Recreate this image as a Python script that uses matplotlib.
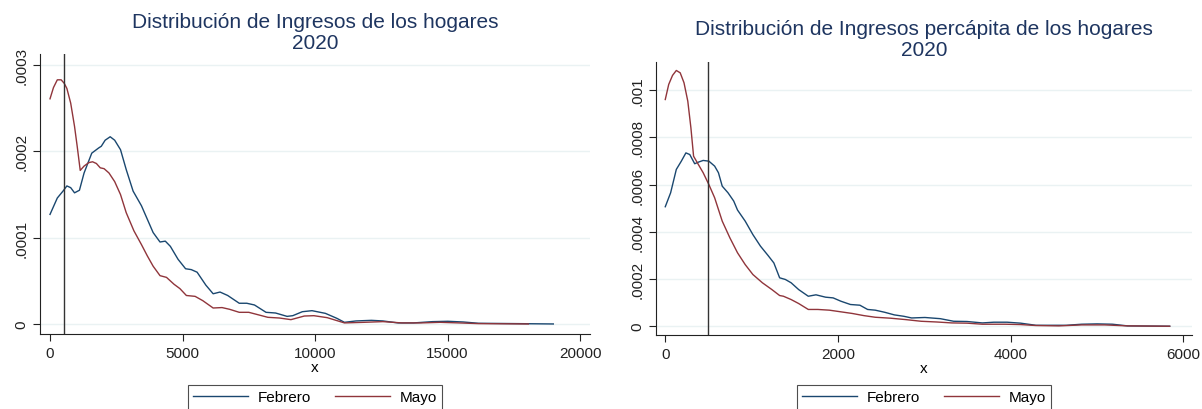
import numpy as np
import matplotlib.pyplot as plt
from matplotlib.ticker import FuncFormatter

plt.rcParams['font.family'] = ['Liberation Sans', 'DejaVu Sans']

# Ingresos de los hogares (densidad, en 1e-4)
x_hog_feb = [0, 275, 490, 636, 780, 925, 1110, 1285, 1575, 1835, 1935, 2080, 2270, 2440,
             2660, 2875, 3135, 3450, 3890, 4150, 4350, 4540, 4830, 5115, 5330, 5550, 5880,
             6155, 6415, 6705, 7140, 7425, 7715, 8150, 8510, 8945, 9160, 9520, 9885, 10390,
             10825, 11110, 11545, 12125, 12560, 13135, 13715, 14435, 15010, 15590, 16170,
             17615, 18990]
y_hog_feb = [1.27, 1.46, 1.54, 1.60, 1.58, 1.52, 1.55, 1.75, 1.98, 2.04, 2.06, 2.13, 2.17, 2.13,
             2.02, 1.79, 1.54, 1.37, 1.06, 0.95, 0.96, 0.90, 0.75, 0.64, 0.63, 0.60, 0.45,
             0.35, 0.37, 0.33, 0.24, 0.24, 0.22, 0.135, 0.127, 0.088, 0.096, 0.142, 0.154, 0.123,
             0.065, 0.019, 0.035, 0.042, 0.035, 0.012, 0.012, 0.027, 0.031, 0.023, 0.008,
             0.004, 0.0]
x_hog_may = [0, 130, 275, 420, 535, 636, 780, 925, 1025, 1140, 1285, 1460, 1605, 1750, 1895,
             2040, 2225, 2440, 2660, 2875, 3165, 3450, 3670, 3890, 4150, 4395, 4680, 4900,
             5145, 5475, 5765, 6155, 6490, 6775, 7140, 7500, 7935, 8220, 8655, 9090, 9595,
             9955, 10460, 11110, 11835, 12560, 13280, 14000, 14720, 15445, 16170, 18050]
y_hog_may = [2.61, 2.74, 2.83, 2.83, 2.79, 2.73, 2.56, 2.29, 2.06, 1.78, 1.83, 1.87, 1.88, 1.86,
             1.81, 1.80, 1.75, 1.65, 1.50, 1.29, 1.08, 0.92, 0.79, 0.67, 0.56, 0.54, 0.46, 0.41,
             0.33, 0.32, 0.27, 0.185, 0.19, 0.17, 0.135, 0.135, 0.10, 0.077, 0.069, 0.05, 0.092,
             0.096, 0.073, 0.012, 0.019, 0.027, 0.012, 0.012, 0.019, 0.012, 0.004, 0.0]

# Ingresos percapita (densidad, en 1e-4)
x_pc_feb = [0, 62, 128, 186, 239, 284, 341, 385, 439, 505, 572, 616, 660, 727, 793, 837, 926,
            1015, 1103, 1192, 1258, 1325, 1391, 1458, 1546, 1657, 1746, 1857, 1945, 2034, 2145,
            2255, 2344, 2433, 2543, 2654, 2765, 2854, 3009, 3186, 3341, 3496, 3673, 3806, 3961,
            4116, 4294, 4471, 4648, 4825, 5003, 5180, 5357, 5844]
y_pc_feb = [5.06, 5.65, 6.64, 6.99, 7.34, 7.27, 6.88, 6.95, 7.02, 6.99, 6.78, 6.50, 5.93, 5.65,
            5.30, 4.92, 4.45, 3.88, 3.39, 2.99, 2.68, 2.05, 1.98, 1.84, 1.55, 1.27, 1.33, 1.23,
            1.20, 1.06, 0.92, 0.89, 0.71, 0.68, 0.59, 0.48, 0.42, 0.35, 0.37, 0.32, 0.21, 0.20,
            0.14, 0.17, 0.17, 0.13, 0.04, 0.04, 0.04, 0.085, 0.099, 0.085, 0.014, 0.0]
x_pc_may = [0, 40, 84, 128, 173, 217, 261, 297, 328, 372, 439, 505, 572, 660, 749, 837, 926,
            1015, 1125, 1236, 1325, 1369, 1458, 1546, 1657, 1768, 1901, 2034, 2167, 2300, 2433,
            2610, 2787, 2964, 3142, 3319, 3496, 3673, 3939, 4116, 4294, 4560, 4825, 5091, 5357,
            5844]
y_pc_may = [9.60, 10.24, 10.62, 10.83, 10.73, 10.31, 9.53, 8.40, 7.20, 6.92, 6.50, 6.00, 5.44,
            4.45, 3.74, 3.11, 2.61, 2.19, 1.84, 1.55, 1.30, 1.27, 1.13, 0.96, 0.71, 0.71, 0.68,
            0.61, 0.54, 0.45, 0.38, 0.34, 0.28, 0.21, 0.18, 0.14, 0.13, 0.085, 0.085, 0.07,
            0.03, 0.014, 0.056, 0.056, 0.014, 0.0]

linea_hog = 520
linea_pc = 500

navy = '#1a476f'
maroon = '#90353b'
grid_col = '#eaf2f3'
title_col = '#1e3560'


def fmt_stata(v, pos):
    if abs(v) < 1e-12:
        return '0'
    s = ('%.4f' % v).rstrip('0')
    return s[1:] if s.startswith('0') else s


fig = plt.figure(figsize=(12.02, 4.10), dpi=100)
ax1 = fig.add_axes([0.0333, 0.183, 0.4576, 0.683])
ax2 = fig.add_axes([0.546, 0.180, 0.4455, 0.667])

paneles = [
    (ax1, x_hog_feb, y_hog_feb, x_hog_may, y_hog_may, linea_hog,
     'Distribución de Ingresos de los hogares\n2020',
     [0, 5000, 10000, 15000, 20000], [0, 0.0001, 0.0002, 0.0003],
     (-377, 20377), (-0.0000116, 0.000313), 4),
    (ax2, x_pc_feb, y_pc_feb, x_pc_may, y_pc_may, linea_pc,
     'Distribución de Ingresos percápita de los hogares\n2020',
     [0, 2000, 4000, 6000], [0, 0.0002, 0.0004, 0.0006, 0.0008, 0.001],
     (-104, 6100), (-0.000038, 0.00112), 5),
]

for ax, xf, yf, xm, ym, linea, titulo, xt, yt, xl, yl, tpad in paneles:
    ax.plot(xf, np.array(yf) * 1e-4, color=navy, lw=1.0, label='Febrero')
    ax.plot(xm, np.array(ym) * 1e-4, color=maroon, lw=1.0, label='Mayo')
    ax.axvline(linea, color='#333333', lw=1.0)
    ax.set_xlim(*xl)
    ax.set_ylim(*yl)
    ax.set_xticks(xt)
    ax.set_yticks(yt)
    ax.yaxis.set_major_formatter(FuncFormatter(fmt_stata))
    ax.grid(axis='y', color=grid_col, lw=1.0)
    ax.set_axisbelow(True)
    for s in ['top', 'right']:
        ax.spines[s].set_visible(False)
    for s in ['left', 'bottom']:
        ax.spines[s].set_color('#222222')
        ax.spines[s].set_linewidth(0.8)
    ax.tick_params(direction='out', length=5, width=0.8, labelsize=11, colors='#222222')
    plt.setp(ax.get_yticklabels(), rotation=90, va='center')
    ax.set_xlabel('x', fontsize=11, labelpad=0)
    ax.set_title(titulo, fontsize=15, color=title_col, linespacing=1.15, pad=tpad)
    pos = ax.get_position()
    cx = pos.x0 + pos.width / 2
    leg = ax.legend(ncol=2, loc='upper center', bbox_to_anchor=(cx, 0.0585),
                    bbox_transform=fig.transFigure,
                    fontsize=11, frameon=True, fancybox=False, edgecolor='#222222',
                    handlelength=3.6, handletextpad=0.6, columnspacing=1.6,
                    borderpad=0.35, borderaxespad=0)
    leg.get_frame().set_linewidth(0.8)

fig.savefig('out.png', dpi=100)
